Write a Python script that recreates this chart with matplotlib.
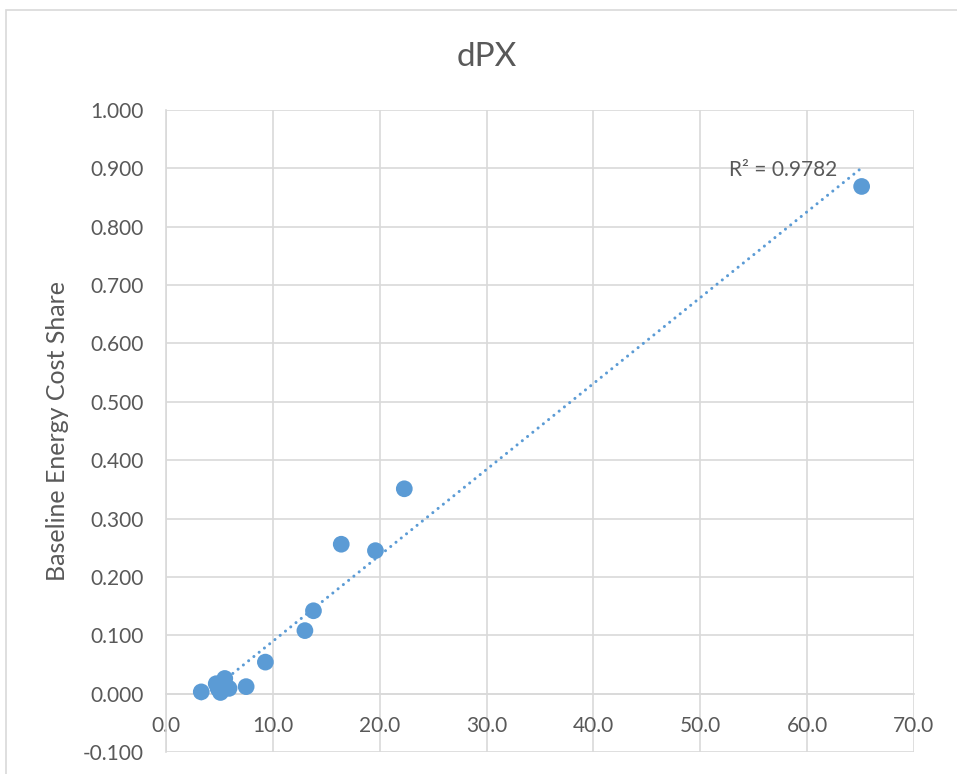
import numpy as np
import matplotlib
matplotlib.use("Agg")
import matplotlib.pyplot as plt
from matplotlib.patches import Rectangle

# values
intensity = [3.3, 4.7, 4.9, 5.5, 5.1, 5.7, 5.9, 7.5, 9.3, 13.0, 13.8, 16.4, 19.6, 22.3, 65.1]
cost_share = [0.003, 0.017, 0.008, 0.026, 0.002, 0.011, 0.009, 0.012, 0.054, 0.108, 0.142,
              0.256, 0.245, 0.351, 0.869]
r2_label = "R² = 0.9782"
title = "dPX"
y_label = "Baseline Energy Cost Share"

blue = "#5B9BD5"
grey_text = "#595959"
grid_col = "#D9D9D9"

plt.rcParams['font.family'] = ['Lato', 'DejaVu Sans']

fig = plt.figure(figsize=(9.57, 7.74), dpi=100)
ax = fig.add_axes([166 / 957, 1 - 752 / 774, 748 / 957, 642 / 774])

# chart border
fig.patches.append(Rectangle((6 / 957, -0.1), 1.2, 1 - 10.5 / 774 + 0.1,
                             transform=fig.transFigure, fill=False,
                             edgecolor=grid_col, lw=1.2))

ax.set_xlim(0, 70)
ax.set_ylim(-0.1, 1.0)
ax.set_xticks(np.arange(0, 71, 10))
ax.set_yticks(np.arange(-0.1, 1.001, 0.1))
ax.set_xticklabels([f"{v:.1f}" for v in np.arange(0, 71, 10)])
ax.set_yticklabels([f"{v:.3f}" for v in np.arange(-0.1, 1.001, 0.1)])

ax.grid(True, color=grid_col, lw=1.2)
ax.set_axisbelow(True)
for s in ['top', 'right']:
    ax.spines[s].set_visible(False)
ax.spines['bottom'].set_position(('data', 0))
ax.spines['left'].set_position(('data', 0))
ax.spines['bottom'].set_color(grid_col)
ax.spines['left'].set_color(grid_col)
ax.spines['bottom'].set_linewidth(1.2)
ax.spines['left'].set_linewidth(1.2)
ax.tick_params(axis='both', length=0, labelsize=15, colors=grey_text)
ax.tick_params(axis='x', pad=16)
ax.tick_params(axis='y', pad=16)

# linear trendline
k, b = np.polyfit(intensity, cost_share, 1)
xs = np.array([min(intensity), max(intensity)])
ax.plot(xs, k * xs + b, color=blue, lw=2.2, linestyle=(0, (0.01, 2.2)),
        dash_capstyle='round', zorder=2)

ax.scatter(intensity, cost_share, s=145, color=blue, edgecolors='none', zorder=3)

ax.text(62.8, 0.897, r2_label, ha='right', va='center', fontsize=15, color=grey_text)

ax.set_ylabel(y_label, fontsize=18, color=grey_text)
ax.yaxis.set_label_coords(-0.13, 0.5)

fig.text(487 / 957, 1 - 57 / 774, title, ha='center', va='center', fontsize=24, color=grey_text)

fig.savefig("out.png", dpi=100)
